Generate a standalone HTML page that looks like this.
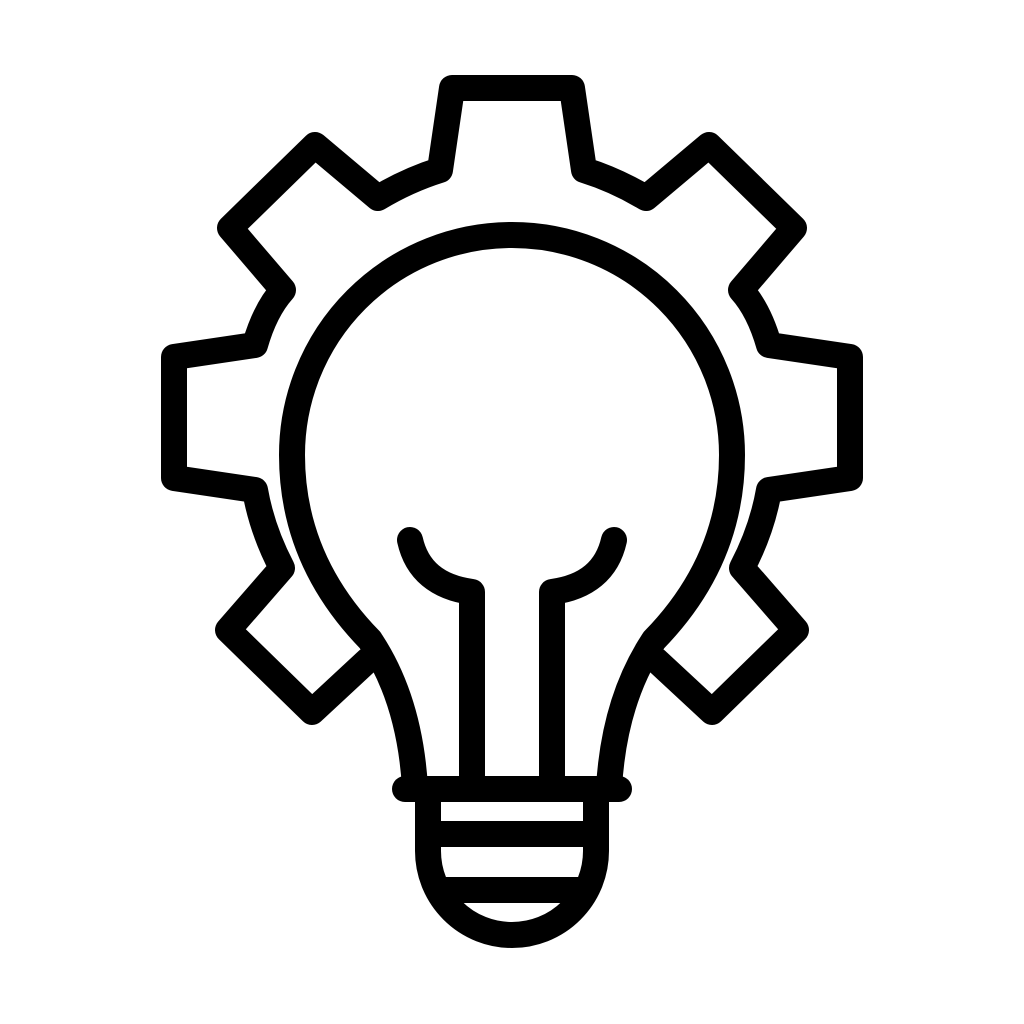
<!DOCTYPE html>
<html><head><style>html,body{margin:0;padding:0;background:#fff}svg{display:block}</style></head>
<body>
<svg width="1024" height="1024" viewBox="0 0 1024 1024" xmlns="http://www.w3.org/2000/svg">
<rect width="1024" height="1024" fill="#fff"/>
<g fill="none" stroke="#000" stroke-width="26" stroke-linejoin="round" stroke-linecap="round">
<path d="M368,660 L312,712 L228,630 L282,568 Q262,530 255,490 L174,478 L174,357 L255,345 Q265,310 283,290 L230,228 L315,145 L378,198 Q408,180 440,170 L452,88 L572,88 L584,170 Q616,180 646,198 L709,145 L794,228 L741,290 Q759,310 769,345 L850,357 L850,478 L769,490 Q762,530 742,568 L796,630 L712,712 L656,660"/>
<path d="M415,788 Q410,700 370,640 Q292,560 292,455 A220,220 0 0 1 732,455 Q732,560 654,640 Q614,700 609,788"/>
<path d="M405,789 L619,789"/>
<path d="M428,789 L428,851 A84,84 0 0 0 596,851 L596,789"/>
<path d="M428,834 L596,834"/>
<path d="M430,890 L594,890" stroke-linecap="butt"/>
<path d="M472,780 L472,592 Q420,585 410,540"/>
<path d="M552,780 L552,592 Q604,585 614,540"/>
</g>
</svg>
</body></html>
